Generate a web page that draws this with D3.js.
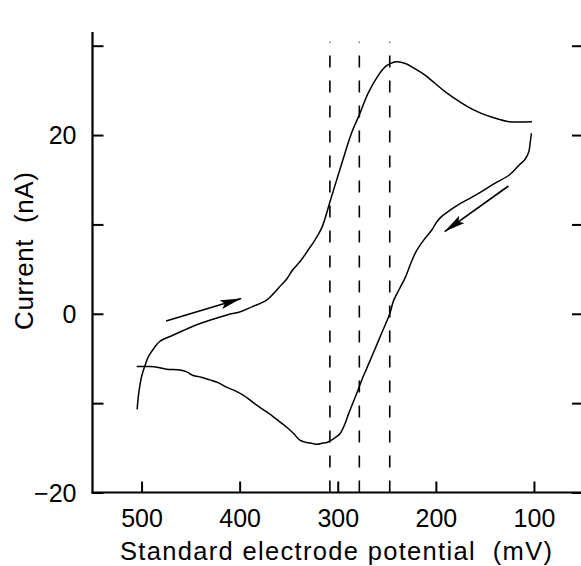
<!DOCTYPE html>
<html>
<head>
<meta charset="utf-8">
<script src="https://cdn.jsdelivr.net/npm/d3@7"></script>
<style>
  html, body { margin: 0; padding: 0; background: #fff; }
  svg { display: block; }
  text { font-family: "Liberation Sans", Arial, Helvetica, sans-serif; fill: #000; }
</style>
</head>
<body>
<svg id="chart" width="581" height="566"></svg>
<script>
// ---- data (potential in mV, current in nA) ----
const forwardE = [504.5, 503, 501.5, 500, 496.5, 493, 487, 481.5, 468, 458, 447.5, 435, 424, 412, 400, 387, 373, 366, 359.5, 352, 346, 338, 331, 323, 316, 308, 296, 286, 277.5, 269, 258.5, 252, 246.6, 240, 231, 221, 211, 201, 190, 174, 163, 153, 140, 125.5, 102];
const forwardI = [-10.7, -9.0, -7.9, -7.05, -5.8, -4.8, -3.8, -3.1, -2.4, -1.9, -1.4, -0.9, -0.5, -0.1, 0.2, 0.8, 1.5, 2.2, 3.0, 3.9, 4.9, 5.9, 7.0, 8.3, 9.7, 12.5, 16.8, 20.2, 22.4, 24.7, 26.7, 27.6, 28.0, 28.2, 28.0, 27.4, 26.7, 25.8, 24.8, 23.6, 22.9, 22.4, 21.9, 21.5, 21.5];
const reverseE = [102.6, 104, 105.3, 109, 115.5, 125.5, 140, 153, 164, 174, 184, 194, 199, 204, 212, 219.5, 225, 231, 237, 243, 247, 255, 263, 270, 275.5, 280.6, 285, 289, 293, 297.6, 302, 306, 311, 316.3, 321, 326.5, 332, 339, 345, 352, 359, 366, 375, 383, 390, 396.5, 405, 413.5, 422, 430.5, 439, 447.5, 454, 461, 474.5, 483, 491.5, 505];
const reverseI = [20.2, 19.0, 18.1, 17.3, 16.6, 15.5, 14.6, 13.7, 13.0, 12.4, 11.7, 10.9, 10.3, 9.4, 8.3, 7.1, 5.8, 4.1, 2.8, 1.5, 0.0, -2.1, -4.2, -6.0, -7.4, -8.9, -10.1, -11.2, -12.4, -13.4, -13.8, -14.1, -14.4, -14.5, -14.6, -14.5, -14.4, -14.1, -13.4, -12.7, -12.1, -11.5, -10.8, -10.2, -9.6, -9.1, -8.6, -8.2, -7.7, -7.4, -7.1, -6.9, -6.5, -6.3, -6.2, -6.0, -5.9, -5.9];
const dashedE = [308, 278, 247];
const xTicks = [500, 400, 300, 200, 100];
const yTicksLabelled = [-20, 0, 20];
const yTicksAll = [-20, -10, 0, 10, 20, 30];
// sweep-direction arrows: [E0, I0, E1, I1]
const arrows = [[475, -0.8, 398.5, 1.7], [126, 14.3, 191, 9.2]];
const xTitle = "Standard electrode potential\u00a0\u00a0(mV)";
const yTitle = "Current\u00a0\u00a0(nA)";

// ---- layout ----
const svg = d3.select("#chart");
const mLeft = 92.5, mRight = 583, mTop = 45.7, mBottom = 492.5;
const x = d3.scaleLinear().domain([550, 50]).range([mLeft, mRight]);
const y = d3.scaleLinear().domain([-20, 30]).range([mBottom, mTop]);
const axisTop = 32;
const fontFam = '"Liberation Sans", Arial, sans-serif';

const defs = svg.append("defs");
defs.append("marker")
  .attr("id", "arrowhead")
  .attr("viewBox", "0 0 21 9")
  .attr("refX", 21).attr("refY", 4.5)
  .attr("markerWidth", 21).attr("markerHeight", 9)
  .attr("markerUnits", "userSpaceOnUse")
  .attr("orient", "auto")
  .append("path").attr("d", "M0,0 L21,4.5 L0,9 L4,4.5 Z").attr("fill", "#000");

// dashed reference lines
svg.append("g").selectAll("line").data(dashedE).join("line")
  .attr("x1", d => x(d)).attr("x2", d => x(d))
  .attr("y1", mBottom).attr("y2", mTop - 4)
  .attr("stroke", "#000").attr("stroke-width", 1.6)
  .attr("stroke-dasharray", "12,13");

// curves
const line = d3.line().x(d => x(d[0])).y(d => y(d[1])).curve(d3.curveCatmullRom.alpha(0.5));
const fwd = forwardE.map((e, i) => [e, forwardI[i]]);
const rev = reverseE.map((e, i) => [e, reverseI[i]]);
[fwd, rev].forEach(pts => {
  svg.append("path").datum(pts).attr("d", line)
    .attr("fill", "none").attr("stroke", "#000").attr("stroke-width", 1.5)
    .attr("stroke-linejoin", "round");
});

// arrows
svg.append("g").selectAll("line").data(arrows).join("line")
  .attr("x1", d => x(d[0])).attr("y1", d => y(d[1]))
  .attr("x2", d => x(d[2])).attr("y2", d => y(d[3]))
  .attr("stroke", "#000").attr("stroke-width", 1.6)
  .attr("marker-end", "url(#arrowhead)");

// axes
const bottomAxis = d3.axisBottom(x).tickValues(xTicks).tickSizeInner(-11).tickSizeOuter(0).tickPadding(0);
const gx = svg.append("g").attr("transform", `translate(0,${mBottom})`).call(bottomAxis);
gx.select(".domain").remove();
gx.selectAll(".tick line").attr("stroke-width", 2);
gx.selectAll(".tick text").attr("font-size", 25).attr("dy", null).attr("y", 34)
  .style("font-family", fontFam);

const leftAxis = d3.axisLeft(y).tickValues(yTicksAll).tickSizeInner(-11).tickSizeOuter(0)
  .tickFormat(d => yTicksLabelled.includes(d) ? (d < 0 ? "\u2212" + Math.abs(d) : d) : "");
const gy = svg.append("g").attr("transform", `translate(${mLeft},0)`).call(leftAxis);
gy.select(".domain").remove();
gy.selectAll(".tick line").attr("stroke-width", 2);
gy.selectAll(".tick text").attr("font-size", 25).attr("x", -16).attr("dy", "0.35em")
  .style("font-family", fontFam);

const rightAxis = d3.axisRight(y).tickValues(yTicksAll).tickSizeInner(-11).tickSizeOuter(0).tickFormat("");
const gr = svg.append("g").attr("transform", `translate(${mRight},0)`).call(rightAxis);
gr.select(".domain").remove();
gr.selectAll(".tick line").attr("stroke-width", 2);

// frame lines
svg.append("line").attr("x1", mLeft).attr("x2", mLeft).attr("y1", axisTop).attr("y2", mBottom + 1)
  .attr("stroke", "#000").attr("stroke-width", 2.2);
svg.append("line").attr("x1", mLeft - 1).attr("x2", mRight + 2).attr("y1", mBottom).attr("y2", mBottom)
  .attr("stroke", "#000").attr("stroke-width", 2.2);
svg.append("line").attr("x1", mRight).attr("x2", mRight).attr("y1", axisTop).attr("y2", mBottom)
  .attr("stroke", "#000").attr("stroke-width", 2.2);

// titles
svg.append("text").attr("x", 336).attr("y", 560)
  .attr("text-anchor", "middle").attr("font-size", 25.5)
  .attr("textLength", 432).attr("lengthAdjust", "spacing").text(xTitle);
svg.append("text").attr("transform", `translate(33,251) rotate(-90)`)
  .attr("text-anchor", "middle").attr("font-size", 26)
  .attr("textLength", 158).attr("lengthAdjust", "spacing").text(yTitle);
</script>
</body>
</html>
